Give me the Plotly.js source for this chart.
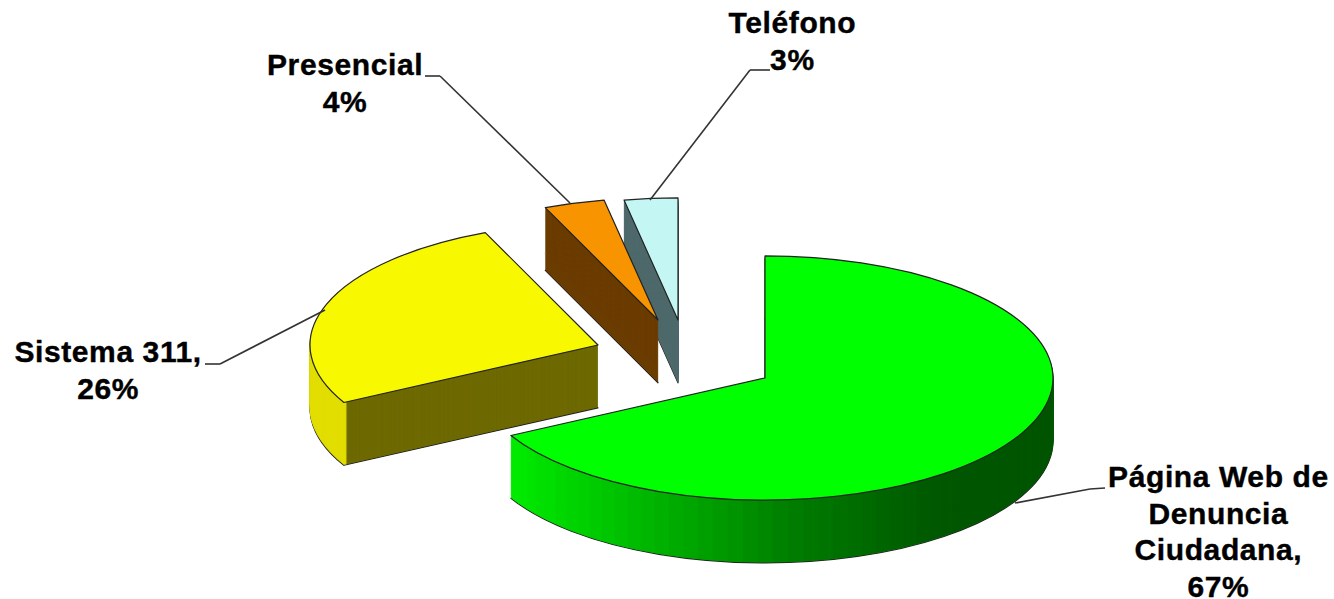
<!DOCTYPE html>
<html>
<head>
<meta charset="utf-8">
<script src="https://cdn.plot.ly/plotly-3.0.1.min.js"></script>
<style>
html,body{margin:0;padding:0;background:#fff;overflow:hidden;width:1334px;height:599px}
#wrap{width:1334px;height:599px;overflow:hidden;position:relative}
</style>
</head>
<body>
<div id="wrap"><div id="chart"></div></div>
<script>
// ---- data ----
const categories = ["Página Web de Denuncia Ciudadana", "Sistema 311", "Presencial", "Teléfono"];
const shares = [67.2, 26.4, 3.4, 3.0];
const labelTexts = ["Página Web de<br>Denuncia<br>Ciudadana,<br>67%", "Sistema 311,<br>26%", "Presencial<br>4%", "Teléfono<br>3%"];
const faceColors = ["#00ff00", "#f8f800", "#f89400", "#c4f6f4"];
const cutColors = ["#00a000", "#6e6a00", "#6b3c00", "#4f6a6c"];
const rimColors = [null, "#e2de00", null, null];

// ---- presentation ----
const W = 1334, TILT = 0.424, H = Math.round(599 / TILT);
const RADIUS = 288, DEPTH = 62;
const hubs = [[765, 378], [598, 345], [658, 320], [678, 320]];
const drawOrder = [3, 2, 1, 0];
const CLEAR = "rgba(0,0,0,0)", EDGE = "#222";
const labelPos = [[1218, 458], [108, 333], [345, 46], [792, 4]];
const leaders = [
  [[1105, 488], [1090, 489], [1015, 503]],
  [[205, 364], [220, 364], [325, 310]],
  [[425, 76], [440, 76], [570, 203]],
  [[770, 70], [750, 70], [650, 200]]
];

const starts = shares.map((_, i) => shares.slice(0, i).reduce((a, b) => a + b, 0) * 3.6);

function domainAt(i, drop) {
  const cx = hubs[i][0], cy = (hubs[i][1] + drop) / TILT;
  return {
    x: [(cx - RADIUS) / W, (cx + RADIUS) / W],
    y: [1 - (cy + RADIUS) / H, 1 - (cy - RADIUS) / H]
  };
}
function sector(i, drop, fill, line, hole) {
  const rest = 100 - shares[i];
  return {
    type: "pie", values: [shares[i], rest], sort: false, direction: "clockwise", rotation: starts[i],
    domain: domainAt(i, drop), hole: hole || 0, textinfo: "none", hoverinfo: "skip", showlegend: false,
    marker: { colors: [fill, CLEAR], line: { color: [line || fill, CLEAR], width: line ? 1.2 : 0.6 } }
  };
}
function lerp(stops, t) {
  for (let k = 1; k < stops.length; k++) {
    if (t <= stops[k][0]) {
      const a = stops[k - 1], b = stops[k];
      return a[1] + (b[1] - a[1]) * (t - a[0]) / (b[0] - a[0]);
    }
  }
  return stops[stops.length - 1][1];
}
const greenRamp = [[-1, 240], [-0.875, 235], [0.1, 125], [0.6, 88], [1, 85]];
function gradientRim(i, drop, pieces) {
  const vals = [], cols = [];
  for (let k = 0; k < pieces; k++) {
    vals.push(shares[i] / pieces);
    const mid = (starts[i] + (k + 0.5) * shares[i] * 3.6 / pieces) * Math.PI / 180;
    cols.push("rgb(0," + Math.round(lerp(greenRamp, Math.sin(mid))) + ",0)");
  }
  vals.push(100 - shares[i]); cols.push(CLEAR);
  return {
    type: "pie", values: vals, sort: false, direction: "clockwise", rotation: starts[i],
    domain: domainAt(i, drop), hole: 0.98, textinfo: "none", hoverinfo: "skip", showlegend: false,
    marker: { colors: cols, line: { color: cols, width: 0.8 } }
  };
}

const traces = [];
drawOrder.forEach(i => {
  traces.push(sector(i, DEPTH + 0.8, cutColors[i], EDGE));
  if (i === 0) {
    for (let d = DEPTH; d > 0; d -= 1) traces.push(gradientRim(i, d, 80));
  } else {
    for (let d = DEPTH; d > 0; d -= 1) traces.push(sector(i, d, cutColors[i]));
    if (rimColors[i]) {
      for (let d = DEPTH; d > 0; d -= 1) traces.push(sector(i, d, rimColors[i], null, 0.99));
    }
  }
  traces.push(sector(i, 0, faceColors[i], EDGE));
});

const annotations = labelTexts.map((t, i) => ({
  text: "<b>" + t + "</b>", xref: "paper", yref: "paper", showarrow: false,
  x: labelPos[i][0] / W, y: 1 - labelPos[i][1] / H, xanchor: "center", yanchor: "top", align: "center",
  font: { family: "Liberation Sans, Arial, sans-serif", size: 30, color: "#000" }
}));
const shapes = [];
leaders.forEach(pts => {
  for (let k = 1; k < pts.length; k++) {
    shapes.push({
      type: "line", xref: "paper", yref: "paper",
      x0: pts[k - 1][0] / W, y0: 1 - pts[k - 1][1] / H, x1: pts[k][0] / W, y1: 1 - pts[k][1] / H,
      line: { color: "#333", width: 1.6 }
    });
  }
});

Plotly.newPlot("chart", traces, {
  width: W, height: H, margin: { l: 0, r: 0, t: 0, b: 0 },
  paper_bgcolor: "#fff", plot_bgcolor: "#fff", showlegend: false,
  annotations, shapes
}, { staticPlot: true, displayModeBar: false }).then(gd => {
  const layer = gd.querySelector(".pielayer");
  layer.setAttribute("transform", "scale(1," + TILT + ")");
  layer.querySelectorAll("path").forEach(p => p.style.vectorEffect = "non-scaling-stroke");
  gd.querySelectorAll(".annotation-text").forEach(t => {
    t.style.letterSpacing = "0.6px";
    t.style.stroke = "#000";
    t.style.strokeWidth = "0.4px";
    t.querySelectorAll("tspan.line").forEach(s => {
      const dy = parseFloat(s.getAttribute("dy"));
      if (dy) s.setAttribute("dy", (dy * 1.22 / 1.3) + "em");
    });
  });
});
</script>
</body>
</html>
